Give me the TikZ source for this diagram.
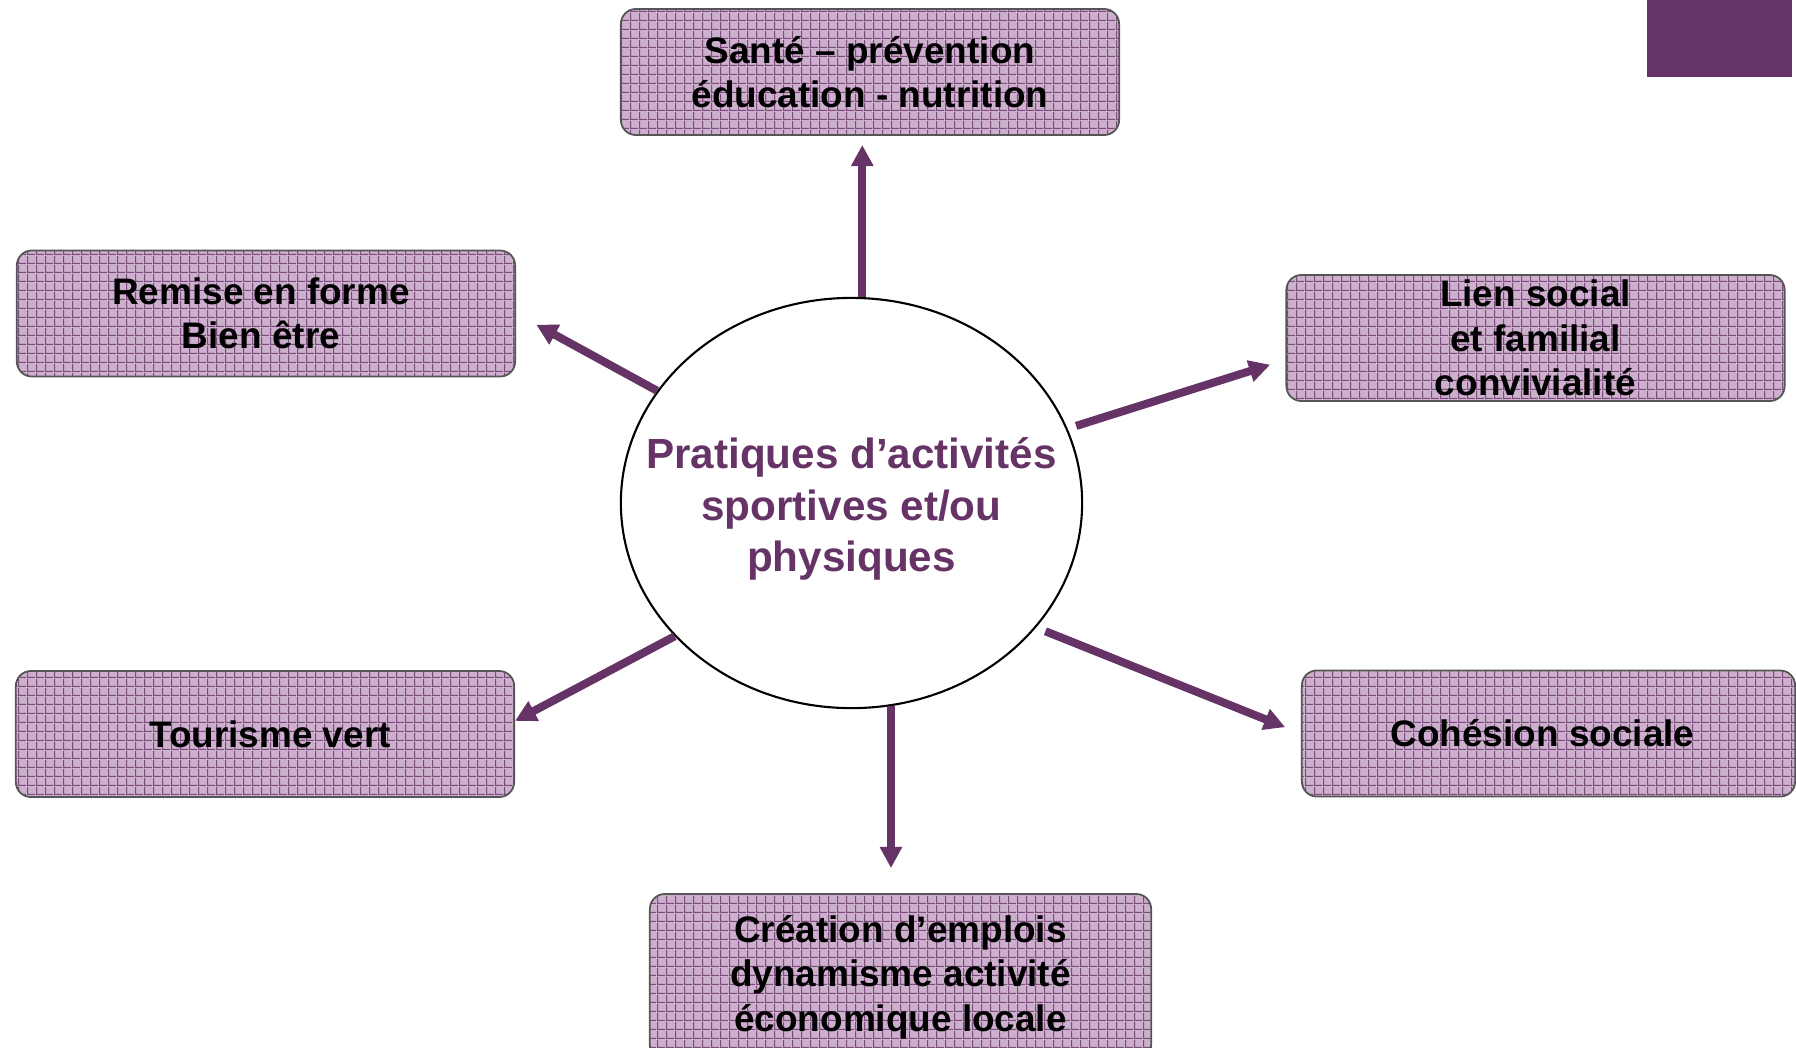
\documentclass[tikz,border=0pt]{standalone}
\usepackage{fontspec}
\setmainfont{Liberation Sans}
\usetikzlibrary{shapes.geometric,arrows.meta,patterns.meta}
\definecolor{plum}{HTML}{663366}
\definecolor{boxfill}{HTML}{CDB0CD}
\definecolor{boxgrid}{HTML}{7C4C7C}
\definecolor{boxedge}{HTML}{555555}
\tikzdeclarepattern{name=lattice, type=uncolored,
  bounding box={(0pt,0pt) and (2.56pt,2.56pt)},
  tile size={(2.56pt,2.56pt)},
  code={\draw[line width=0.35pt] (0pt,0.2pt) -- (2.56pt,0.2pt) (0.2pt,0pt) -- (0.2pt,2.56pt);}}

\begin{document}
\begin{tikzpicture}[x=0.01cm,y=-0.01cm,
    theme/.style={rectangle,rounded corners=0.15cm,preaction={fill=boxfill},
      pattern=lattice,pattern color=boxgrid,draw=boxedge,line width=0.5pt,
      minimum width=4.98cm,minimum height=1.26cm,inner ysep=0pt,align=center,
      font=\fontsize{10.5}{12.6}\selectfont\bfseries},
    hub/.style={ellipse,draw=black,line width=0.6pt,fill=white,
      minimum width=4.61cm,minimum height=4.10cm,inner sep=0pt},
    hubtext/.style={text=plum,align=center,yshift=-0.06cm,
      font=\fontsize{12}{14.6}\selectfont\bfseries},
    link/.style={draw=plum,line width=2.3pt,-{Triangle[length=6pt,width=6pt]}}]
  \useasboundingbox (0,0) rectangle (1796,1047);
  \fill[plum] (1647,0) rectangle (1792,77);

  \node[hub,label={[hubtext,name=caption]center:Pratiques d’activités\\sportives et/ou\\physiques}]
    (centre) at (851.5,503) {};

  \node[theme] (sante) at (870,72) {Santé – prévention\\éducation - nutrition};
  \node[theme] (remise) at (266,313.5) {Remise en forme\kern0.1cm\\Bien être\kern0.1cm};
  \node[theme] (lien) at (1535.5,338) {Lien social\\et familial\\convivialité};
  \node[theme] (tourisme) at (265,734) {\hspace{0.1cm}Tourisme vert};
  \node[theme,minimum width=4.93cm] (cohesion) at (1548.5,733.5) {Cohésion sociale\hspace{0.12cm}};
  \node[theme,minimum width=5.01cm,minimum height=1.66cm] (emploi) at (900.5,977)
    {Création d’emplois\\dynamisme activité\\économique locale};

  % arrows out of the ellipse
  \draw[link,shorten >=0.09cm] (centre.87) -- (centre.87 |- sante.south);
  \draw[link,shorten >=0.23cm] (centre.150) -- (remise.east);
  \draw[link,shorten <=0.09cm,shorten >=0.16cm] (centre.19) -- (lien.185);
  \draw[link] (centre.217) -- (tourisme.3);
  \draw[link,shorten <=0.1cm,shorten >=0.17cm] (centre.326) -- (cohesion.west);
  \draw[link,shorten >=0.25cm] (centre.281) -- (centre.281 |- emploi.north);
\end{tikzpicture}
\end{document}
